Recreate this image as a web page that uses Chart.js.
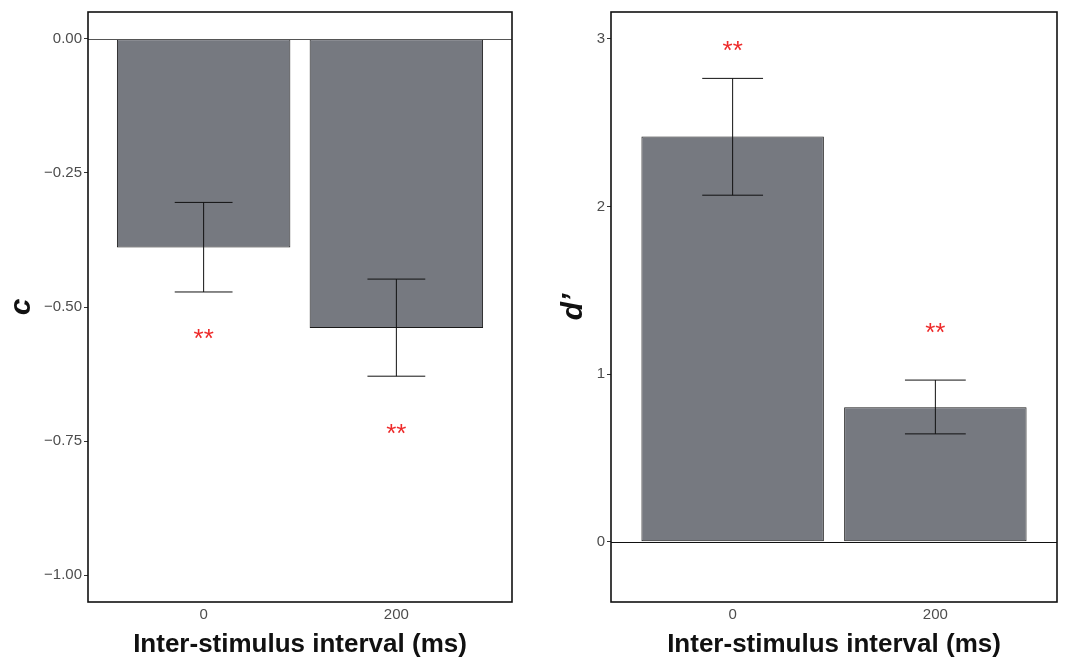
<!DOCTYPE html>
<html>
<head>
<meta charset="utf-8">
<script src="https://cdn.jsdelivr.net/npm/chart.js@4.4.0/dist/chart.umd.min.js"></script>
<style>
  body { margin: 0; background: #fff; width: 1069px; height: 661px; position: relative; overflow: hidden; }
  canvas { position: absolute; top: 0; }
</style>
</head>
<body>
<canvas id="cChart" width="524" height="661" style="left:0"></canvas>
<canvas id="dChart" width="529" height="661" style="left:540px"></canvas>
<script>
// inter-stimulus interval categories
const intervals = ['0', '200'];

// criterion c
const cMean = [-0.389, -0.539];
const cLow = [-0.472, -0.629];
const cHigh = [-0.305, -0.448];
const cStars = [-0.552, -0.73];
const cTicks = [-1, -0.75, -0.5, -0.25, 0];

// sensitivity d'
const dMean = [2.417, 0.802];
const dLow = [2.067, 0.643];
const dHigh = [2.764, 0.964];
const dStars = [2.95, 1.27];
const dTicks = [0, 1, 2, 3];

const FONT = '"Liberation Sans", Arial, sans-serif';

// error bars, significance stars, zero line and panel border
const extras = {
    id: 'extras',
    afterDatasetsDraw(chart, args, opts) {
        const ctx = chart.ctx, a = chart.chartArea, x = chart.scales.x, y = chart.scales.y;
        ctx.save();
        var y0 = Math.round(y.getPixelForValue(0)) + 0.5;
        ctx.strokeStyle = opts.zeroColor;
        ctx.lineWidth = 1;
        ctx.beginPath();
        ctx.moveTo(a.left, y0);
        ctx.lineTo(a.right, y0);
        ctx.stroke();

        ctx.strokeStyle = '#111';
        opts.low.forEach(function (lo, i) {
            var xc = x.getPixelForValue(i + 1),
                xl = x.getPixelForValue(i + 1 - 0.15),
                xr = x.getPixelForValue(i + 1 + 0.15),
                yl = y.getPixelForValue(lo),
                yh = y.getPixelForValue(opts.high[i]);
            ctx.beginPath();
            ctx.moveTo(xc, yl); ctx.lineTo(xc, yh);
            ctx.moveTo(xl, yl); ctx.lineTo(xr, yl);
            ctx.moveTo(xl, yh); ctx.lineTo(xr, yh);
            ctx.stroke();
        });

        ctx.fillStyle = '#ee2a2a';
        ctx.font = '26px ' + FONT;
        ctx.textAlign = 'center';
        ctx.textBaseline = 'alphabetic';
        opts.stars.forEach(function (s, i) {
            ctx.fillText('**', x.getPixelForValue(i + 1), y.getPixelForValue(s) + 12);
        });

        ctx.strokeStyle = '#111';
        ctx.lineWidth = 1.6;
        ctx.strokeRect(a.left, a.top, a.right - a.left, a.bottom - a.top);
        ctx.restore();
    }
};

function makeChart(id, means, low, high, stars, ticks, yMin, yMax, yTitle, fmt, axisWidth, titlePad, zeroColor) {
    return new Chart(document.getElementById(id), {
        type: 'bar',
        data: {
            datasets: [{
                data: means.map(function (v, i) { return { x: i + 1, y: v }; }),
                backgroundColor: '#767980',
                borderColor: '#1a1a1a',
                borderWidth: 1,
                borderSkipped: false,
                barPercentage: 0.9,
                categoryPercentage: 1
            }]
        },
        options: {
            responsive: false,
            animation: false,
            layout: { padding: { top: 12, right: 12, left: 0, bottom: 0 } },
            plugins: {
                legend: { display: false },
                tooltip: { enabled: false },
                extras: { low: low, high: high, stars: stars, zeroColor: zeroColor }
            },
            scales: {
                x: {
                    type: 'linear',
                    min: 0.4,
                    max: 2.6,
                    offset: false,
                    grid: { display: false },
                    border: { display: false },
                    afterBuildTicks: function (axis) {
                        axis.ticks = intervals.map(function (c, i) { return { value: i + 1 }; });
                    },
                    ticks: {
                        padding: -4,
                        color: '#4d4d4d',
                        font: { family: FONT, size: 15 },
                        callback: function (v) { return intervals[v - 1]; }
                    },
                    title: {
                        display: true,
                        text: 'Inter-stimulus interval (ms)',
                        color: '#111',
                        font: { family: FONT, size: 26, weight: 'bold' },
                        padding: { top: 1, bottom: 1 }
                    },
                    afterFit: function (scale) { scale.height = 59; }
                },
                y: {
                    min: yMin,
                    max: yMax,
                    grid: { drawOnChartArea: false, drawTicks: true, tickLength: 4, color: '#333' },
                    border: { display: false },
                    afterBuildTicks: function (axis) {
                        axis.ticks = ticks.map(function (v) { return { value: v }; });
                    },
                    ticks: {
                        padding: 2,
                        color: '#4d4d4d',
                        font: { family: FONT, size: 15 },
                        callback: fmt
                    },
                    title: {
                        display: true,
                        text: yTitle,
                        color: '#111',
                        font: { family: FONT, size: 30, weight: 'bold', style: 'italic' },
                        padding: { top: titlePad, bottom: 0 }
                    },
                    afterFit: function (scale) { scale.width = axisWidth; }
                }
            }
        },
        plugins: [extras]
    });
}

makeChart('cChart', cMean, cLow, cHigh, cStars, cTicks, -1.05, 0.05, 'c',
    function (v) { return v.toFixed(2).replace('-', '\u2212'); }, 88, 4, '#555');
makeChart('dChart', dMean, dLow, dHigh, dStars, dTicks, -0.36, 3.16, 'd\u2019',
    function (v) { return String(v); }, 71, 16, '#111');
</script>
</body>
</html>
